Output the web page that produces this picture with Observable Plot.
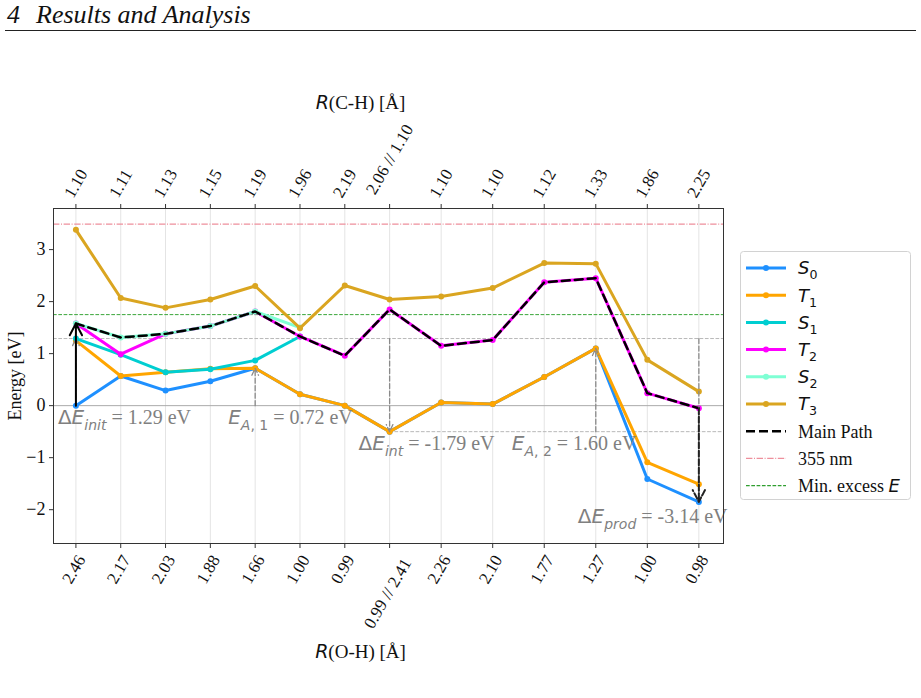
<!DOCTYPE html>
<html><head><meta charset="utf-8">
<script src="https://cdn.jsdelivr.net/npm/d3@7"></script>
<script src="https://cdn.jsdelivr.net/npm/@observablehq/plot@0.6"></script>
<style>
html,body{margin:0;padding:0;background:#fff;}
body{width:921px;height:698px;overflow:hidden;position:relative;font-family:"Liberation Serif",serif;color:#111;}
#header{position:absolute;left:7px;top:0px;font-style:italic;font-size:26px;white-space:nowrap;}
#header span.t{margin-left:16px;}
#rule{position:absolute;left:5px;top:30px;width:911px;height:0;border-top:1.3px solid #222;}
#chart{position:absolute;left:0;top:0;}
#legend{position:absolute;left:740px;top:251px;}
</style></head><body>
<div id="chart"></div>
<div id="header"><span>4</span><span class="t">Results and Analysis</span></div>
<div id="rule"></div>
<div id="legend"></div>
<script>
// ---- data ----
const xPos = [0, 1, 2, 3, 4, 5, 6, 7, 8.15, 9.3, 10.45, 11.6, 12.75, 13.9];
const rCH = ["1.10","1.11","1.13","1.15","1.19","1.96","2.19","2.06 // 1.10","1.10","1.10","1.12","1.33","1.86","2.25"];
const rOH = ["2.46","2.17","2.03","1.88","1.66","1.00","0.99","0.99 // 2.41","2.26","2.10","1.77","1.27","1.00","0.98"];
const S0 = [0.00, 0.57, 0.29, 0.47, 0.72, 0.22, 0.00, -0.50, 0.06, 0.03, 0.55, 1.10, -1.41, -1.85];
const T1 = [1.25, 0.57, 0.64, 0.71, 0.72, 0.22, 0.00, -0.50, 0.06, 0.03, 0.55, 1.10, -1.09, -1.51];
const S1 = [1.29, 0.98, 0.64, 0.70, 0.87, 1.33];
const T2 = [1.58, 0.99, 1.38, 1.53, 1.81, 1.33, 0.96, 1.85, 1.15, 1.26, 2.37, 2.45, 0.24, -0.05];
const S2 = [1.58, 1.31, 1.38, 1.53, 1.81, 1.50];
const T3 = [3.38, 2.07, 1.88, 2.04, 2.30, 1.49, 2.31, 2.04, 2.10, 2.26, 2.74, 2.73, 0.88, 0.27];
const mainPath = [1.58, 1.31, 1.38, 1.53, 1.81, 1.33, 0.96, 1.85, 1.15, 1.26, 2.37, 2.45, 0.24, -0.05];
const seriesNames = ["S0", "T1", "S1", "T2", "S2", "T3"];
const seriesValues = [S0, T1, S1, T2, S2, T3];
const seriesColors = ["#1e90ff", "#ffa500", "#00ced1", "#ff00ff", "#7fffd4", "#daa520"];
const laser355 = 3.49;
const minExcessE = 1.75;
const refInit = 1.29;
const refInt = -0.50;
const yTicks = [-2, -1, 0, 1, 2, 3];
const annotLabels = ["ΔEinit = 1.29 eV", "EA,1 = 0.72 eV", "ΔEint = -1.79 eV", "EA,2 = 1.60 eV", "ΔEprod = -3.14 eV"];

// ---- tables ----
const ticks = xPos.map((x, i) => ({x, top: rCH[i], bot: rOH[i]}));
const seriesRows = seriesValues.map(vals => vals.map((y, i) => ({x: xPos[i], y})));
const mainRows = mainPath.map((y, i) => ({x: xPos[i], y}));
const grayArrows = [
  {x: xPos[0], y1: S0[0], y2: S1[0]},
  {x: xPos[4], y1: S0[0], y2: T1[4]},
  {x: xPos[7], y1: refInit, y2: T1[7]},
  {x: xPos[11], y1: refInt, y2: T1[11]},
  {x: xPos[13], y1: refInit, y2: S0[13]}
];
const blackSolid = [{x: xPos[0], y1: S0[0], y2: mainPath[0]}];
const blackDashed = [{x: xPos[13], y1: mainPath[13], y2: S0[13]}];
const annots = [
  {x: xPos[0], y: S0[0], t: annotLabels[0], dx: -18, dy: 12},
  {x: xPos[4], y: S0[0], t: annotLabels[1], dx: -27, dy: 12},
  {x: xPos[7], y: T1[7], t: annotLabels[2], dx: -31, dy: 12},
  {x: xPos[11], y: refInt, t: annotLabels[3], dx: -84, dy: 12},
  {x: xPos[13], y: S0[13], t: annotLabels[4], dx: -121, dy: 15}
];
const xDomain = [-0.5, 14.45];

const marks = [
  Plot.ruleX(xPos, {stroke: "#e4e4e4", strokeWidth: 1}),
  Plot.ruleY([laser355], {stroke: "#ee8f9c", strokeWidth: 1.1, strokeDasharray: "6.4,1.6,1,1.6"}),
  Plot.ruleY([minExcessE], {stroke: "#3aa63a", strokeWidth: 1, strokeDasharray: "3.7,1.6"}),
  Plot.ruleY([0], {stroke: "#aaaaaa", strokeWidth: 1}),
  Plot.ruleY([refInit], {stroke: "#b8b8b8", strokeWidth: 1, strokeDasharray: "3.7,1.6"}),
  Plot.ruleY([refInt], {x1: xPos[7], x2: xDomain[1], stroke: "#b8b8b8", strokeWidth: 1, strokeDasharray: "3.7,1.6"})
];
seriesRows.forEach((rows, k) => {
  marks.push(Plot.line(rows, {x: "x", y: "y", stroke: seriesColors[k], strokeWidth: 3}));
  marks.push(Plot.dot(rows, {x: "x", y: "y", fill: seriesColors[k], r: 3}));
});
marks.push(
  Plot.line(mainRows, {x: "x", y: "y", stroke: "#000", strokeWidth: 2.5, strokeDasharray: "8,5"}),
  Plot.arrow(grayArrows, {x: "x", y1: "y1", y2: "y2", stroke: "#8a8a8a", strokeWidth: 1.3, strokeDasharray: "5,2.5", headLength: 9, headAngle: 50}),
  Plot.arrow(blackSolid, {x: "x", y1: "y1", y2: "y2", stroke: "#000", strokeWidth: 2, headLength: 10, headAngle: 55}),
  Plot.arrow(blackDashed, {x: "x", y1: "y1", y2: "y2", stroke: "#222", strokeWidth: 2, strokeDasharray: "6,2.5", headLength: 10, headAngle: 55})
);
annots.forEach(a => marks.push(Plot.text([a], {x: "x", y: "y", text: "t", dx: a.dx, dy: a.dy, textAnchor: "start", fill: "#808080", fontSize: 20})));
marks.push(
  Plot.frame({stroke: "#333", strokeWidth: 1}),
  Plot.axisY({ticks: yTicks, tickSize: 4, tickPadding: 4, fontSize: 18, label: null, stroke: "#333", fill: "#111",
    tickFormat: d => d < 0 ? "\u2212" + (-d) : String(d)}),
  Plot.axisX({anchor: "bottom", ticks: xPos, tickSize: 5, tickFormat: () => "", label: null, stroke: "#333"}),
  Plot.axisX({anchor: "top", ticks: xPos, tickSize: 5, tickFormat: () => "", label: null, stroke: "#333"}),
  Plot.text(ticks.filter(d => d.top.length < 6), {x: "x", text: "top", frameAnchor: "top", rotate: -60, dy: -25, textAnchor: "middle", lineAnchor: "middle", fontSize: 17, fill: "#111"}),
  Plot.text(ticks.filter(d => d.top.length >= 6), {x: "x", text: "top", frameAnchor: "top", rotate: -60, dy: -49, textAnchor: "middle", lineAnchor: "middle", fontSize: 17, fill: "#111"}),
  Plot.text(ticks.filter(d => d.bot.length < 6), {x: "x", text: "bot", frameAnchor: "bottom", rotate: -60, dx: -2, dy: 26, textAnchor: "middle", lineAnchor: "middle", fontSize: 17, fill: "#111"}),
  Plot.text(ticks.filter(d => d.bot.length >= 6), {x: "x", text: "bot", frameAnchor: "bottom", rotate: -60, dx: -2, dy: 50, textAnchor: "middle", lineAnchor: "middle", fontSize: 17, fill: "#111"}),
  Plot.text(["R(C-H) [Å]"], {frameAnchor: "top-left", dx: 307, dy: -113, textAnchor: "middle", fontSize: 19, fill: "#111"}),
  Plot.text(["R(O-H) [Å]"], {frameAnchor: "bottom-left", dx: 307, dy: 114, textAnchor: "middle", fontSize: 19, fill: "#111"}),
  Plot.text(["Energy [eV]"], {frameAnchor: "left", dx: -38, rotate: -90, textAnchor: "middle", fontSize: 18, fill: "#111"})
);

const chart = Plot.plot({
  width: 921, height: 698,
  marginLeft: 53, marginRight: 198, marginTop: 208, marginBottom: 155,
  style: {fontFamily: "Liberation Serif", fontSize: "16px", background: "transparent", overflow: "visible"},
  x: {domain: xDomain},
  y: {domain: [-2.65, 3.79]},
  marks
});
document.getElementById("chart").append(chart);

// ---- rich text (math italics / subscripts) ----
const MATH = "DejaVu Sans";
function richify(el, parts, base) {
  const s = d3.select(el);
  s.text(null);
  const sh = base * 0.28;
  let shifted = false;
  parts.forEach(([txt, kind]) => {
    const ts = s.append("tspan").text(txt);
    const isSub = kind.startsWith("sub");
    if (kind !== "r") ts.attr("font-family", MATH);
    else ts.attr("font-family", "Liberation Serif");
    if (kind === "mi" || kind === "subi") ts.attr("font-style", "italic");
    if (isSub) ts.attr("font-size", (base * 0.7) + "px");
    if (isSub && !shifted) { ts.attr("dy", sh); shifted = true; }
    if (!isSub && shifted) { ts.attr("dy", -sh); shifted = false; }
  });
}
const richMap = {
  "ΔEinit = 1.29 eV": [["Δ","mu"],["E","mi"],["init","subi"],[" = 1.29 eV","r"]],
  "EA,1 = 0.72 eV": [["E","mi"],["A","subi"],[", 1","subu"],[" = 0.72 eV","r"]],
  "ΔEint = -1.79 eV": [["Δ","mu"],["E","mi"],["int","subi"],[" = -1.79 eV","r"]],
  "EA,2 = 1.60 eV": [["E","mi"],["A","subi"],[", 2","subu"],[" = 1.60 eV","r"]],
  "ΔEprod = -3.14 eV": [["Δ","mu"],["E","mi"],["prod","subi"],[" = -3.14 eV","r"]],
  "R(C-H) [Å]": [["R","mi"],["(C-H) [Å]","r"]],
  "R(O-H) [Å]": [["R","mi"],["(O-H) [Å]","r"]]
};
d3.select(chart).selectAll("text").each(function() {
  const t = this.textContent;
  if (richMap[t]) {
    const fs = parseFloat(this.getAttribute("font-size") || this.parentNode.getAttribute("font-size") || 19);
    richify(this, richMap[t], fs);
  }
});

// ---- legend ----
const legendItems = [
  {parts: [["S","mi"],["0","subu"]], color: seriesColors[0], type: "series"},
  {parts: [["T","mi"],["1","subu"]], color: seriesColors[1], type: "series"},
  {parts: [["S","mi"],["1","subu"]], color: seriesColors[2], type: "series"},
  {parts: [["T","mi"],["2","subu"]], color: seriesColors[3], type: "series"},
  {parts: [["S","mi"],["2","subu"]], color: seriesColors[4], type: "series"},
  {parts: [["T","mi"],["3","subu"]], color: seriesColors[5], type: "series"},
  {parts: [["Main Path","r"]], color: "#000", type: "main"},
  {parts: [["355 nm","r"]], color: "#ee8f9c", type: "laser"},
  {parts: [["Min. excess ","r"],["E","mi"]], color: "#2f9e2f", type: "excess"}
];
const lw = 171, lh = 249;
const lsvg = d3.select("#legend").append("svg").attr("width", lw).attr("height", lh);
lsvg.append("rect").attr("x", 0.5).attr("y", 0.5).attr("width", lw - 1).attr("height", lh - 1)
  .attr("rx", 3).attr("fill", "#fff").attr("stroke", "#d2d2d2");
legendItems.forEach((it, i) => {
  const cy = 17 + i * 27.2;
  const g = lsvg.append("g");
  const ln = g.append("line").attr("x1", 6).attr("x2", 46).attr("y1", cy).attr("y2", cy).attr("stroke", it.color);
  if (it.type === "series") {
    ln.attr("stroke-width", 3);
    g.append("circle").attr("cx", 26).attr("cy", cy).attr("r", 3).attr("fill", it.color);
  } else if (it.type === "main") {
    ln.attr("stroke-width", 2.5).attr("stroke-dasharray", "9,4");
  } else if (it.type === "laser") {
    ln.attr("stroke-width", 1.1).attr("stroke-dasharray", "6.4,1.6,1,1.6");
  } else {
    ln.attr("stroke-width", 1.1).attr("stroke-dasharray", "3.7,1.6");
  }
  const tx = g.append("text").attr("x", 58).attr("y", cy).attr("dy", "0.35em")
    .attr("font-size", 18).attr("fill", "#111").attr("font-family", "Liberation Serif");
  richify(tx.node(), it.parts, 18);
});
</script></body></html>
